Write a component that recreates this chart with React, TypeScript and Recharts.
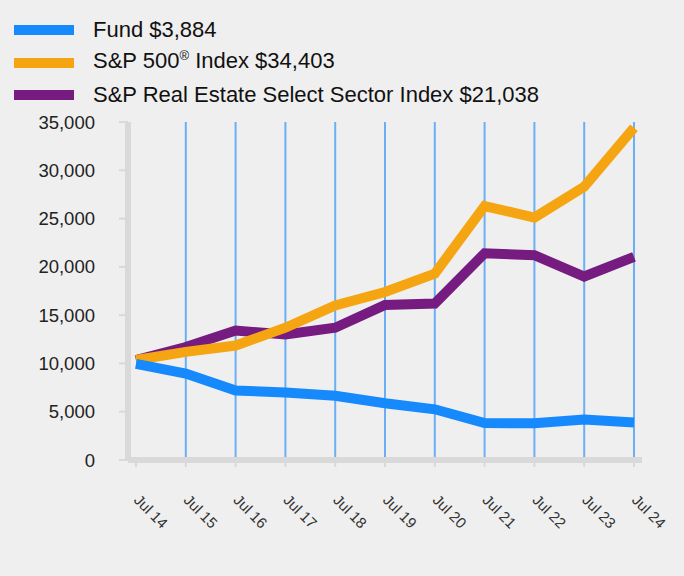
import { LineChart, Line, XAxis, YAxis, ReferenceLine } from "recharts";

const years = ["Jul 14", "Jul 15", "Jul 16", "Jul 17", "Jul 18", "Jul 19", "Jul 20", "Jul 21", "Jul 22", "Jul 23", "Jul 24"];
const fund = [9950, 8950, 7200, 7000, 6650, 5870, 5250, 3830, 3800, 4200, 3884];
const sp500 = [10350, 11200, 11850, 13700, 16000, 17400, 19300, 26300, 25100, 28300, 34403];
const realEstate = [10350, 11700, 13400, 13000, 13700, 16050, 16200, 21400, 21200, 19000, 21038];
const yTicks = [0, 5000, 10000, 15000, 20000, 25000, 30000, 35000];

const FONT = "Arial, 'Liberation Sans', sans-serif";

const chartData = years.map((y, i) => ({
  year: y,
  fund: fund[i],
  sp500: sp500[i],
  realEstate: realEstate[i],
}));

const legendItems = [
  { label: "Fund $3,884", color: "#1689fc" },
  { label: "S&P 500® Index $34,403", color: "#f5a511" },
  { label: "S&P Real Estate Select Sector Index $21,038", color: "#761b80" },
];

function renderLabel(label: string) {
  const i = label.indexOf("®");
  if (i < 0) return label;
  return (
    <>
      {label.slice(0, i)}
      <span style={{ fontSize: 13, position: "relative", top: -8 }}>®</span>
      {label.slice(i + 1)}
    </>
  );
}

function XTick(props: any) {
  const { x, y, payload } = props;
  return (
    <text
      x={x - 3}
      y={y + 32}
      transform={`rotate(45, ${x - 3}, ${y + 32})`}
      textAnchor="start"
      fontSize={15}
      fontFamily={FONT}
      fill="#333"
    >
      {payload.value}
    </text>
  );
}

export default function App() {
  return (
    <div
      style={{
        position: "absolute",
        left: 0,
        top: 0,
        width: 684,
        height: 576,
        background: "#efefef",
        fontFamily: FONT,
      }}
    >
      <div style={{ position: "absolute", left: 14, top: 14 }}>
        {legendItems.map((it) => (
          <div key={it.label} style={{ display: "flex", alignItems: "center", height: 32.6 }}>
            <div style={{ width: 60, height: 10, background: it.color }} />
            <span style={{ marginLeft: 19, fontSize: 22, color: "#111", lineHeight: "32px", whiteSpace: "nowrap" }}>
              {renderLabel(it.label)}
            </span>
          </div>
        ))}
      </div>
      <div style={{ position: "absolute", left: 0, top: 0 }}>
        <LineChart width={684} height={576} data={chartData} margin={{ top: 122, right: 42, bottom: 56, left: 0 }}>
          {years.slice(1).map((c) => (
            <ReferenceLine key={c} x={c} stroke="#6aaff5" strokeWidth={2} />
          ))}
          <XAxis
            dataKey="year"
            padding={{ left: 8, right: 8 }}
            height={60}
            interval={0}
            axisLine={{ stroke: "#d9d9d9", strokeWidth: 6 }}
            tickLine={{ stroke: "#d9d9d9", strokeWidth: 2 }}
            tickSize={7}
            tickMargin={2}
            tick={<XTick />}
          />
          <YAxis
            width={128}
            domain={[0, 35000]}
            ticks={yTicks}
            interval={0}
            tickFormatter={(v: number) => v.toLocaleString("en-US")}
            axisLine={{ stroke: "#d9d9d9", strokeWidth: 6 }}
            tickLine={{ stroke: "#d9d9d9", strokeWidth: 2 }}
            tickSize={9}
            tickMargin={24}
            tick={{ fontSize: 18.5, fill: "#222", fontFamily: FONT }}
          />
          <Line dataKey="realEstate" stroke="#761b80" strokeWidth={10} dot={false} activeDot={false} isAnimationActive={false} strokeLinejoin="miter" />
          <Line dataKey="sp500" stroke="#f5a511" strokeWidth={10} dot={false} activeDot={false} isAnimationActive={false} strokeLinejoin="miter" />
          <Line dataKey="fund" stroke="#1689fc" strokeWidth={10} dot={false} activeDot={false} isAnimationActive={false} strokeLinejoin="miter" />
        </LineChart>
      </div>
    </div>
  );
}
